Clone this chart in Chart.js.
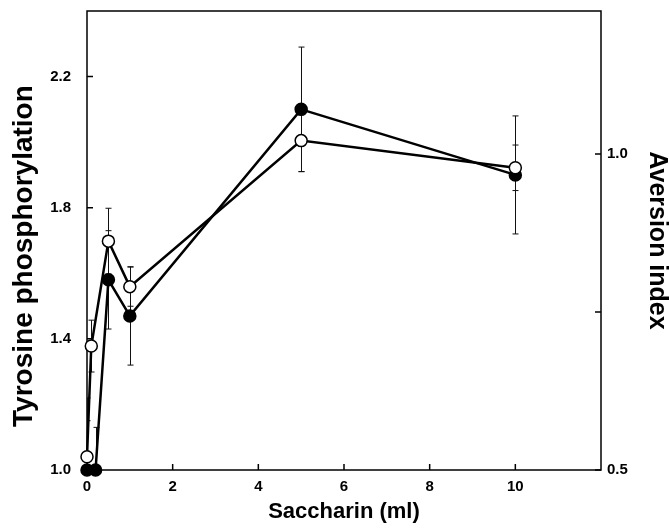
<!DOCTYPE html>
<html>
<head>
<meta charset="utf-8">
<script src="https://cdn.jsdelivr.net/npm/chart.js@4/dist/chart.umd.min.js"></script>
<style>
html, body { margin: 0; padding: 0; background: #fff; }
</style>
</head>
<body>
<canvas id="chart" width="669" height="530"></canvas>
<script>
// filled circles: tyrosine phosphorylation (left axis)
const tyrDoses = [0, 0.2, 0.5, 1, 5, 10];
const tyrosine = [1.0, 1.0, 1.58, 1.47, 2.10, 1.90];
const tyrosineErr = [0.22, 0.13, 0.15, 0.15, 0.19, 0.18];

// open circles: aversion index (right axis)
const avDoses = [0, 0.1, 0.5, 1, 5, 10];
const aversion = [0.521, 0.696, 0.862, 0.790, 1.021, 0.978];
const aversionErr = [0.057, 0.041, 0.052, 0.031, 0.049, 0.036];

const xTicks = [0, 2, 4, 6, 8, 10];
const leftTicks = [1.0, 1.4, 1.8, 2.2];
const rightTicks = [0.5, 0.75, 1.0];
const rightLabels = ['0.5', '', '1.0'];

const FONT = '"Liberation Sans", Arial, Helvetica, sans-serif';

function toPoints(xs, ys) {
    return xs.map((x, i) => ({ x: x, y: ys[i] }));
}

// box round the plot plus inward tick marks
const framePlugin = {
    id: 'frame',
    beforeDatasetsDraw(chart) {
        const ctx = chart.ctx;
        const a = chart.chartArea;
        const len = 6;
        ctx.save();
        ctx.strokeStyle = '#000';
        ctx.lineWidth = 1.5;
        ctx.strokeRect(a.left, a.top, a.right - a.left, a.bottom - a.top);
        ctx.beginPath();
        chart.scales.x.ticks.forEach(t => {
            const px = chart.scales.x.getPixelForValue(t.value);
            ctx.moveTo(px, a.bottom);
            ctx.lineTo(px, a.bottom - len);
        });
        chart.scales.y.ticks.forEach(t => {
            const py = chart.scales.y.getPixelForValue(t.value);
            ctx.moveTo(a.left, py);
            ctx.lineTo(a.left + len, py);
        });
        chart.scales.y2.ticks.forEach(t => {
            const py = chart.scales.y2.getPixelForValue(t.value);
            ctx.moveTo(a.right, py);
            ctx.lineTo(a.right - len, py);
        });
        ctx.stroke();
        ctx.restore();
    }
};

const errorBarPlugin = {
    id: 'errorBars',
    beforeDatasetsDraw(chart) {
        const ctx = chart.ctx;
        const a = chart.chartArea;
        ctx.save();
        ctx.beginPath();
        ctx.rect(a.left, a.top, a.right - a.left, a.bottom - a.top);
        ctx.clip();
        ctx.strokeStyle = '#111';
        ctx.lineWidth = 1;
        chart.data.datasets.forEach(ds => {
            const xs = chart.scales.x;
            const ys = chart.scales[ds.yAxisID];
            ds.data.forEach((p, j) => {
                const e = ds.errors[j];
                const px = Math.round(xs.getPixelForValue(p.x)) + 0.5;
                const top = ys.getPixelForValue(p.y + e);
                const bot = ys.getPixelForValue(p.y - e);
                ctx.beginPath();
                ctx.moveTo(px, top);
                ctx.lineTo(px, bot);
                ctx.moveTo(px - 3, top);
                ctx.lineTo(px + 3, top);
                ctx.moveTo(px - 3, bot);
                ctx.lineTo(px + 3, bot);
                ctx.stroke();
            });
        });
        ctx.restore();
    }
};

const tickFont = { family: FONT, size: 15, weight: 'bold' };

function fixY(width) {
    return s => { s.width = width; s.paddingTop = 0; s.paddingBottom = 0; };
}

new Chart(document.getElementById('chart'), {
    type: 'line',
    data: {
        datasets: [
            {
                label: 'Aversion index',
                data: toPoints(avDoses, aversion),
                errors: aversionErr,
                yAxisID: 'y2',
                borderColor: '#000',
                borderWidth: 2.5,
                pointRadius: 6,
                pointBorderWidth: 1.5,
                pointBackgroundColor: '#fff',
                pointBorderColor: '#000',
                tension: 0,
                clip: false
            },
            {
                label: 'Tyrosine phosphorylation',
                data: toPoints(tyrDoses, tyrosine),
                errors: tyrosineErr,
                yAxisID: 'y',
                borderColor: '#000',
                borderWidth: 2.5,
                pointRadius: 6,
                pointBorderWidth: 1.5,
                pointBackgroundColor: '#000',
                pointBorderColor: '#000',
                tension: 0,
                clip: false
            }
        ]
    },
    options: {
        responsive: false,
        animation: false,
        layout: { padding: { top: 11 } },
        plugins: {
            legend: { display: false },
            tooltip: { enabled: false }
        },
        scales: {
            x: {
                type: 'linear',
                min: 0,
                max: 12,
                afterBuildTicks: s => { s.ticks = xTicks.map(v => ({ value: v })); },
                afterFit: s => { s.height = 60; s.paddingLeft = 0; s.paddingRight = 0; },
                grid: { display: false, drawTicks: false },
                border: { display: false },
                ticks: { font: tickFont, color: '#000', padding: 8, maxRotation: 0 },
                title: {
                    display: true,
                    text: 'Saccharin (ml)',
                    color: '#000',
                    font: { family: FONT, size: 22, weight: 'bold', lineHeight: 1 },
                    padding: { top: 0, bottom: 7 }
                }
            },
            y: {
                position: 'left',
                min: 1.0,
                max: 2.4,
                afterBuildTicks: s => { s.ticks = leftTicks.map(v => ({ value: v })); },
                afterFit: fixY(87),
                grid: { display: false, drawTicks: false },
                border: { display: false },
                ticks: { font: tickFont, color: '#000', padding: 16, callback: v => v.toFixed(1) },
                title: {
                    display: true,
                    // trailing spaces nudge the centred title down a little
                    text: 'Tyrosine phosphorylation\u00a0\u00a0\u00a0\u00a0',
                    color: '#000',
                    font: { family: FONT, size: 28, weight: 'bold', lineHeight: 1 },
                    padding: { top: 10, bottom: 0 }
                }
            },
            y2: {
                position: 'right',
                min: 0.5,
                max: 1.226,
                afterBuildTicks: s => { s.ticks = rightTicks.map(v => ({ value: v })); },
                afterFit: fixY(68),
                grid: { display: false, drawTicks: false },
                border: { display: false },
                ticks: {
                    font: tickFont,
                    color: '#000',
                    padding: 6,
                    callback: (v, i) => rightLabels[i]
                },
                title: {
                    display: true,
                    text: 'Aversion index',
                    color: '#000',
                    font: { family: FONT, size: 25, weight: 'bold', lineHeight: 1 },
                    padding: { top: 0, bottom: 0 }
                }
            }
        }
    },
    plugins: [framePlugin, errorBarPlugin]
});
</script>
</body>
</html>
